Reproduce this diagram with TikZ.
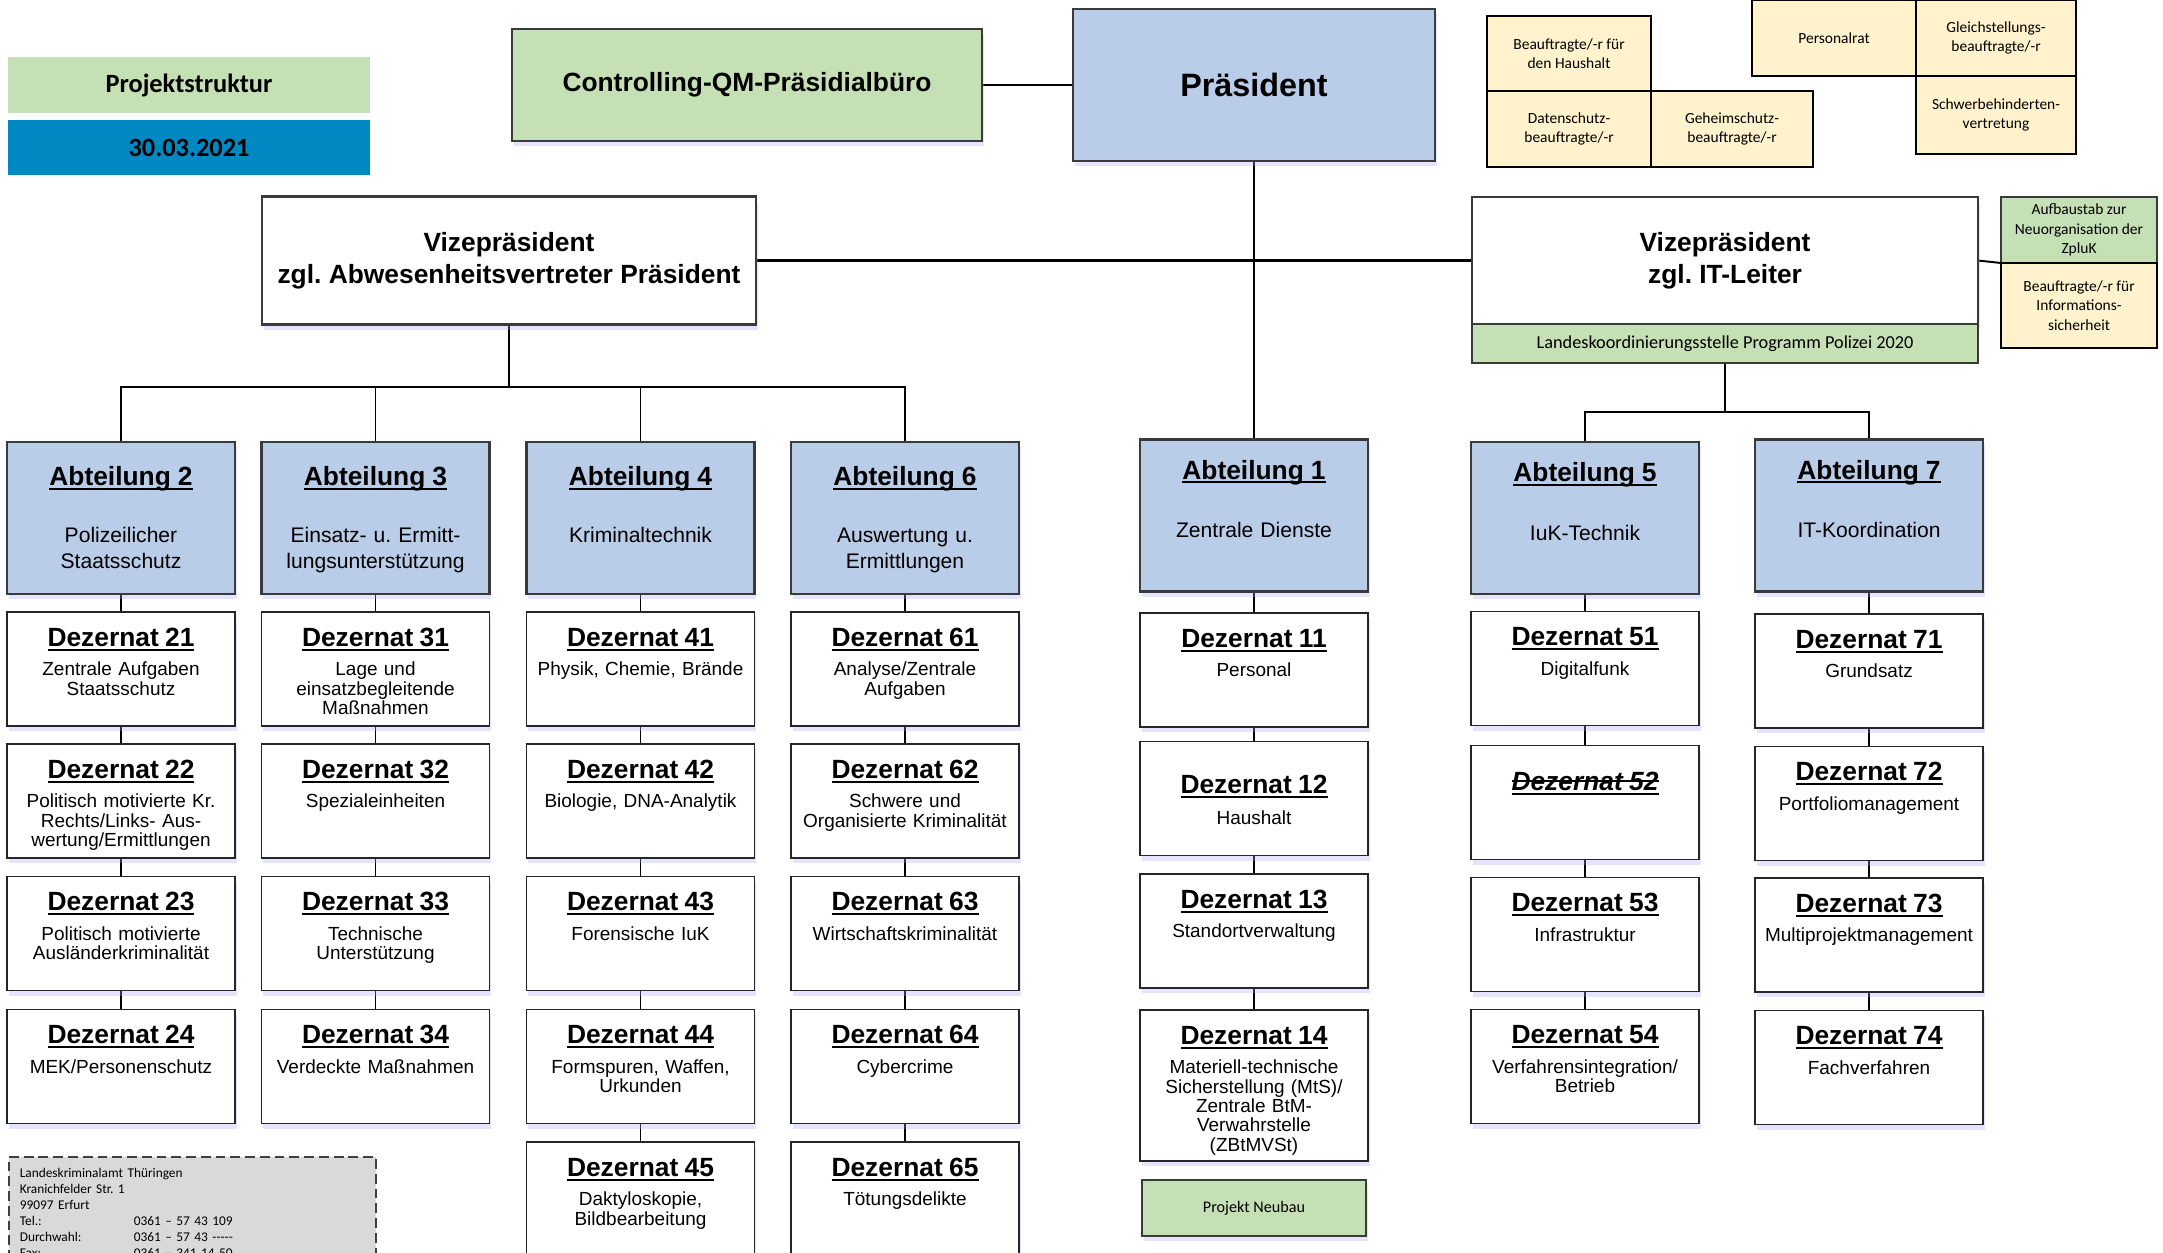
\documentclass[tikz,border=0pt]{standalone}
\usepackage{fontspec}
\setmainfont{Liberation Sans}
\newfontfamily\calfont{Carlito}
\usepackage{xcolor}
\usepackage{tikz}
\usetikzlibrary{positioning,shadows,backgrounds}
\frenchspacing

\definecolor{gruen}{HTML}{C5E0B4}
\definecolor{hellblau}{HTML}{BACDE8}
\definecolor{gelb}{HTML}{FFF2CC}
\definecolor{datumblau}{HTML}{0088C2}
\definecolor{infograu}{HTML}{D9D9D9}
\definecolor{rand}{HTML}{3A3A3A}

\newcommand{\titelfont}{\fontsize{7.5}{9}\selectfont\bfseries}
\newcommand{\ulin}[1]{\leavevmode\setbox0=\hbox{#1}\rlap{\copy0}\rule[-1.2pt]{\wd0}{0.6pt}}
\newcommand{\ulstrike}[1]{\leavevmode\setbox0=\hbox{#1}\rlap{\copy0}\rlap{\rule[2.4pt]{\wd0}{0.6pt}}\rule[-1.2pt]{\wd0}{0.6pt}}

\tikzset{
  schatten/.style={drop shadow={shadow xshift=0.5pt, shadow yshift=-1.5pt, fill=blue!35, opacity=0.3}},
  kasten/.style={draw=rand, line width=0.6pt, inner sep=1pt, align=center},
  gross/.style={kasten, font=\fontsize{7.5}{9}\selectfont\bfseries},
  abt/.style={draw=rand, line width=0.65pt, fill=hellblau, schatten, text width=2.28cm, align=center,
    inner sep=0pt, text height=12.4pt, text depth=30.85pt, font=\fontsize{6}{7.4}\selectfont},
  dez/.style={draw=black!85, line width=0.4pt, fill=white, schatten, text width=2.28cm, align=center,
    inner sep=0pt, text height=9.8pt, text depth=22.64pt, font=\fontsize{5.4}{5.5}\selectfont},
  gelbkasten/.style={draw=black, line width=0.45pt, fill=gelb, align=center, inner sep=1pt, outer sep=0pt,
    font=\calfont\fontsize{4.4}{5.5}\selectfont},
  linie/.style={line width=0.55pt},
}

\begin{document}
\begin{tikzpicture}
\useasboundingbox (0,0) rectangle (21.63,-12.52);
\clip (0,0) rectangle (21.63,-12.52);

\node[fill=gruen, minimum width=3.62cm, minimum height=0.56cm, font=\calfont\fontsize{7.5}{9}\selectfont\bfseries] (proj) at (1.89,-0.85) {Projektstruktur};
\node[fill=datumblau, minimum width=3.62cm, minimum height=0.55cm, font=\calfont\fontsize{7.5}{9}\selectfont\bfseries] (datum) at (1.89,-1.475) {30.03.2021};
\node[gross, fill=gruen, minimum width=4.70cm, minimum height=1.12cm, schatten] (ctrl) at (7.47,-0.85) {Controlling-QM-Präsidialbüro};
\node[gross, fill=hellblau, minimum width=3.62cm, minimum height=1.52cm, line width=0.7pt, schatten, font=\fontsize{9.2}{11}\selectfont\bfseries] (praes) at (12.54,-0.85) {Präsident};

\node[gelbkasten, minimum width=1.64cm, minimum height=0.75cm] (haush) at (15.69,-0.535) {Beauftragte/-r für\\den Haushalt};
\node[gelbkasten, minimum width=1.64cm, minimum height=0.76cm, below=0pt of haush] (daten) {Datenschutz-\\beauftragte/-r};
\node[gelbkasten, minimum width=1.62cm, minimum height=0.76cm, right=0pt of daten] (geheim) {Geheimschutz-\\beauftragte/-r};
\node[gelbkasten, minimum width=1.64cm, minimum height=0.76cm] (prat) at (18.34,-0.38) {Personalrat};
\node[gelbkasten, minimum width=1.60cm, minimum height=0.76cm, right=0pt of prat] (gleich) {Gleichstellungs-\\beauftragte/-r};
\node[gelbkasten, minimum width=1.60cm, minimum height=0.78cm, below=0pt of gleich] (schwer) {Schwerbehinderten-\\vertretung};

\node[gross, fill=white, minimum width=4.94cm, minimum height=1.28cm, schatten] (vizel) at (5.09,-2.605) {Vizepräsident\\zgl. Abwesenheitsvertreter Präsident};
\node[gross, fill=white, minimum width=5.06cm, minimum height=1.27cm, outer sep=0pt, schatten] (vizeit) at (17.25,-2.605) {Vizepräsident\\zgl. IT-Leiter};
\node[draw=rand, line width=0.6pt, fill=gruen, minimum width=5.06cm, minimum height=0.39cm, outer sep=0pt, below=0pt of vizeit, font=\calfont\fontsize{5.2}{6}\selectfont] (landes) {Landeskoordinierungsstelle Programm Polizei 2020};
\node[gelbkasten, draw=rand, fill=gruen, minimum width=1.56cm, minimum height=0.66cm] (aufbau) at (20.79,-2.30) {Aufbaustab zur\\Neuorganisation der\\ZpluK};
\node[gelbkasten, minimum width=1.56cm, minimum height=0.85cm, below=0pt of aufbau] (infosich) {Beauftragte/-r für\\Informations-\\sicherheit};

\node[abt] (a2) at (1.21,-5.18) {\ulin{\titelfont Abteilung 2}\\[8.8pt]Polizeilicher\\Staatsschutz};
\node[abt] (a3) at (3.755,-5.18) {\ulin{\titelfont Abteilung 3}\\[8.8pt]Einsatz- u. Ermitt-\\lungsunterstützung};
\node[abt] (a4) at (6.405,-5.18) {\ulin{\titelfont Abteilung 4}\\[8.8pt]Kriminaltechnik};
\node[abt] (a6) at (9.05,-5.18) {\ulin{\titelfont Abteilung 6}\\[8.8pt]Auswertung u.\\Ermittlungen};
\node[abt, text height=11.3pt, text depth=31.95pt] (a1) at (12.54,-5.155) {\ulin{\titelfont Abteilung 1}\\[9.2pt]Zentrale Dienste};
\node[abt, text height=11.3pt, text depth=31.95pt] (a5) at (15.85,-5.18) {\ulin{\titelfont Abteilung 5}\\[9.2pt]IuK-Technik};
\node[abt, text height=11.3pt, text depth=31.95pt] (a7) at (18.69,-5.155) {\ulin{\titelfont Abteilung 7}\\[9.2pt]IT-Koordination};

\node[dez] (d21) at (1.21,-6.69) {\ulin{\titelfont Dezernat 21}\\[2.9pt]Zentrale Aufgaben\\Staatsschutz};
\node[dez] (d22) at (1.21,-8.01) {\ulin{\titelfont Dezernat 22}\\[2.9pt]Politisch motivierte Kr.\\Rechts/Links- Aus-\\wertung/Ermittlungen};
\node[dez] (d23) at (1.21,-9.335) {\ulin{\titelfont Dezernat 23}\\[2.9pt]Politisch motivierte\\Ausländerkriminalität};
\node[dez] (d24) at (1.21,-10.665) {\ulin{\titelfont Dezernat 24}\\[2.9pt]MEK/Personenschutz};

\node[dez] (d31) at (3.755,-6.69) {\ulin{\titelfont Dezernat 31}\\[2.9pt]Lage und\\einsatzbegleitende\\Maßnahmen};
\node[dez] (d32) at (3.755,-8.01) {\ulin{\titelfont Dezernat 32}\\[2.9pt]Spezialeinheiten};
\node[dez] (d33) at (3.755,-9.335) {\ulin{\titelfont Dezernat 33}\\[2.9pt]Technische\\Unterstützung};
\node[dez] (d34) at (3.755,-10.665) {\ulin{\titelfont Dezernat 34}\\[2.9pt]Verdeckte Maßnahmen};

\node[dez] (d41) at (6.405,-6.69) {\ulin{\titelfont Dezernat 41}\\[2.9pt]Physik, Chemie, Brände};
\node[dez] (d42) at (6.405,-8.01) {\ulin{\titelfont Dezernat 42}\\[2.9pt]Biologie, DNA-Analytik};
\node[dez] (d43) at (6.405,-9.335) {\ulin{\titelfont Dezernat 43}\\[2.9pt]Forensische IuK};
\node[dez] (d44) at (6.405,-10.665) {\ulin{\titelfont Dezernat 44}\\[2.9pt]Formspuren, Waffen,\\Urkunden};
\node[dez] (d45) at (6.405,-11.99) {\ulin{\titelfont Dezernat 45}\\[2.9pt]Daktyloskopie,\\Bildbearbeitung};

\node[dez] (d61) at (9.05,-6.69) {\ulin{\titelfont Dezernat 61}\\[2.9pt]Analyse/Zentrale\\Aufgaben};
\node[dez] (d62) at (9.05,-8.01) {\ulin{\titelfont Dezernat 62}\\[2.9pt]Schwere und\\Organisierte Kriminalität};
\node[dez] (d63) at (9.05,-9.335) {\ulin{\titelfont Dezernat 63}\\[2.9pt]Wirtschaftskriminalität};
\node[dez] (d64) at (9.05,-10.665) {\ulin{\titelfont Dezernat 64}\\[2.9pt]Cybercrime};
\node[dez] (d65) at (9.05,-11.99) {\ulin{\titelfont Dezernat 65}\\[2.9pt]Tötungsdelikte};

\node[dez] (d11) at (12.54,-6.70) {\ulin{\titelfont Dezernat 11}\\[2.9pt]Personal};
\node[dez, text height=14.9pt, text depth=17.54pt] (d12) at (12.54,-7.985) {\ulin{\titelfont Dezernat 12}\\[3.2pt]Haushalt};
\node[dez] (d13) at (12.54,-9.31) {\ulin{\titelfont Dezernat 13}\\[2.9pt]Standortverwaltung};
\node[dez, text depth=33.16pt] (d14) at (12.54,-10.855) {\ulin{\titelfont Dezernat 14}\\[2.9pt]Materiell-technische\\Sicherstellung (MtS)/\\Zentrale BtM-\\Verwahrstelle\\(ZBtMVSt)};
\node[gelbkasten, draw=rand, fill=gruen, minimum width=2.24cm, minimum height=0.56cm, schatten, font=\calfont\fontsize{4.6}{5.5}\selectfont] (neubau) at (12.54,-12.08) {Projekt Neubau};

\node[dez] (d51) at (15.85,-6.685) {\ulin{\titelfont Dezernat 51}\\[2.9pt]Digitalfunk};
\node[dez, text height=12.9pt, text depth=19.54pt] (d52) at (15.85,-8.025) {\ulstrike{\titelfont\itshape Dezernat 52}};
\node[dez] (d53) at (15.85,-9.345) {\ulin{\titelfont Dezernat 53}\\[2.9pt]Infrastruktur};
\node[dez] (d54) at (15.85,-10.665) {\ulin{\titelfont Dezernat 54}\\[2.9pt]Verfahrensintegration/\\Betrieb};

\node[dez] (d71) at (18.69,-6.71) {\ulin{\titelfont Dezernat 71}\\[2.9pt]Grundsatz};
\node[dez] (d72) at (18.69,-8.035) {\ulin{\titelfont Dezernat 72}\\[2.9pt]Portfoliomanagement};
\node[dez] (d73) at (18.69,-9.35) {\ulin{\titelfont Dezernat 73}\\[2.9pt]Multiprojektmanagement};
\node[dez] (d74) at (18.69,-10.675) {\ulin{\titelfont Dezernat 74}\\[2.9pt]Fachverfahren};

\node[draw=black!75, line width=0.45pt, dash pattern=on 2.8pt off 1.4pt, fill=infograu, anchor=north west,
  text width=3.45cm, inner xsep=0.11cm, inner ysep=0pt, text height=6pt, text depth=40pt, align=left,
  font=\calfont\fontsize{3.8}{4.55}\selectfont] (info) at (0.08,-11.56)
  {Landeskriminalamt Thüringen\\Kranichfelder Str. 1\\99097 Erfurt\\
   \makebox[1.14cm][l]{Tel.:}0361 – 57 43 109\\
   \makebox[1.14cm][l]{Durchwahl:}0361 – 57 43 -{}-{}-{}-{}-\\
   \makebox[1.14cm][l]{Fax:}0361 – 341 14 50};

\begin{scope}[on background layer]
\draw[linie] (ctrl) -- (praes);
\draw[linie] (praes) -- (a1);
\draw[line width=0.8pt] (vizel) -- (vizeit);
\draw[linie] (vizeit.east) -- (aufbau.south west);
\draw[linie] (vizel.south) -- ++(0,-0.61) coordinate (busl);
\draw[linie] (a2.north) |- (busl) -| (a6.north);
\draw[linie] (a3.north) -- (a3.north |- busl);
\draw[linie] (a4.north) -- (a4.north |- busl);
\draw[linie] (landes.south) -- ++(0,-0.49) coordinate (busr);
\draw[linie] (a5.north) |- (busr) -| (a7.north);
\draw[linie] (a2) -- (d21) -- (d22) -- (d23) -- (d24);
\draw[linie] (a3) -- (d31) -- (d32) -- (d33) -- (d34);
\draw[linie] (a4) -- (d41) -- (d42) -- (d43) -- (d44) -- (d45);
\draw[linie] (a6) -- (d61) -- (d62) -- (d63) -- (d64) -- (d65);
\draw[linie] (a1) -- (d11) -- (d12) -- (d13) -- (d14);
\draw[linie] (a5) -- (d51) -- (d52) -- (d53) -- (d54);
\draw[linie] (a7) -- (d71) -- (d72) -- (d73) -- (d74);
\end{scope}
\end{tikzpicture}
\end{document}
